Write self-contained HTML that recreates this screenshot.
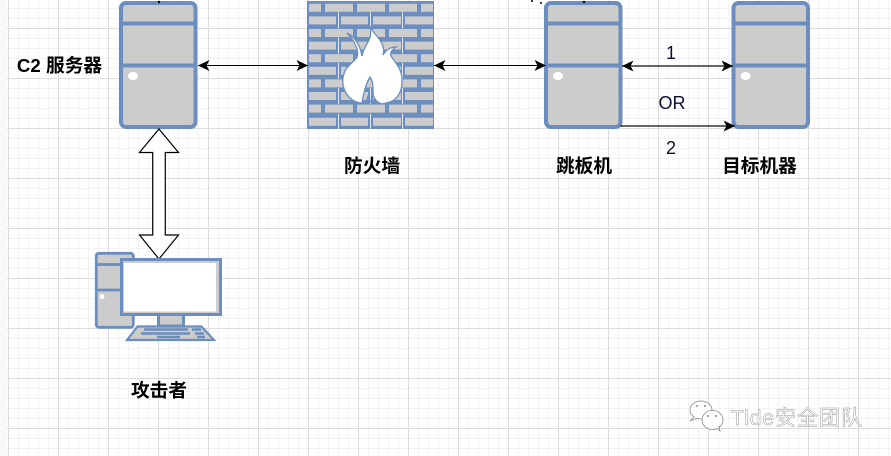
<!DOCTYPE html>
<html><head><meta charset="utf-8"><style>
html,body{margin:0;padding:0;background:#fff}
svg{display:block}
text{font-family:"Liberation Sans","Noto Sans CJK SC",sans-serif}
.b{font-weight:bold;font-size:18.7px;fill:#000;text-anchor:middle}
.n{font-size:18px;fill:#0b1030;text-anchor:middle}
</style></head><body>
<svg width="891" height="456" viewBox="0 0 891 456" xmlns="http://www.w3.org/2000/svg">
<defs>
<pattern id="minor" x="8" y="-2" width="10" height="10" patternUnits="userSpaceOnUse"><path d="M.5 0V10M0 .5H10" stroke="#f3f3f3" fill="none"/></pattern>
<pattern id="major" x="8" y="28" width="50" height="50" patternUnits="userSpaceOnUse"><path d="M.5 0V50M0 .5H50" stroke="#dcdcdc" fill="none"/></pattern>
<g id="srv">
<rect x="121" y="3" width="74.500" height="124" rx="5" fill="#ccc" stroke="#6c8ebf" stroke-width="4"/>
<path d="M121 23.500H196M121 65.500H196" stroke="#6c8ebf" stroke-width="4"/>
<ellipse cx="133" cy="76" rx="5" ry="4" fill="#fff"/>
</g>
<g id="r5" fill="#ccc">
<rect x="309" y="0" width="12" height="8"/><rect x="325" y="0" width="28" height="8"/><rect x="357" y="0" width="28" height="8"/><rect x="389" y="0" width="28" height="8"/><rect x="421" y="0" width="12" height="8"/>
</g>
<g id="r4">
<path d="M338.500 -4V12M370.500 -4V12M402.500 -4V12" stroke="#e4e8f0" stroke-width="1"/>
<g fill="#ccc"><rect x="309" y="0" width="27" height="8"/><rect x="341" y="0" width="27" height="8"/><rect x="373" y="0" width="28" height="8"/><rect x="405" y="0" width="28" height="8"/></g>
</g>
<marker id="ah" markerWidth="12" markerHeight="12" refX="11.500" refY="6" orient="auto-start-reverse" markerUnits="userSpaceOnUse" viewBox="0 0 12 12"><path d="M0 .5L11.500 6L0 11.500L3 6Z" fill="#000"/></marker>
</defs>
<rect width="891" height="456" fill="#fff"/>
<rect x="7" width="884" height="456" fill="url(#minor)"/>
<rect x="7" width="884" height="456" fill="url(#major)"/>
<rect width="7" height="456" fill="#f8f9fb"/>

<use href="#srv" x="0"/>
<use href="#srv" x="425"/>
<use href="#srv" x="612.500"/>
<circle cx="159" cy="2" r="1.200" fill="#000"/>
<circle cx="584" cy="2" r="1.200" fill="#000"/>
<circle cx="532" cy="1" r="1" fill="#000"/>
<circle cx="541" cy="3" r="1" fill="#000"/>

<!-- firewall -->
<rect x="307" y="1" width="127" height="128" fill="#6c8ebf"/>
<use href="#r5" y="3.800"/>
<use href="#r4" y="16.400"/>
<use href="#r5" y="29"/>
<use href="#r4" y="41.600"/>
<use href="#r5" y="54.200"/>
<use href="#r4" y="66.800"/>
<use href="#r5" y="79.400"/>
<use href="#r4" y="92"/>
<use href="#r5" y="104.600"/>
<use href="#r4" y="117.800"/>
<path d="M370 26C372 33 381 38 383 47C384 50 384 52 383 55C386 50 390 47 396 47C391 50 390 53 391 56C397 64 403 72 402 82C402 93 396 100 390 102L382 104C376 102 373 98 373 92C373 87 373 81 370 77C367 82 364 90 362 103C355 103 349 98 346 93C342 86 342 78 345 71C348 65 354 62 357 57C359 52 356 42 347 33C355 37 360 45 362 56C363 50 366 46 369 40C371 36 371 31 370 26Z" fill="#fff" stroke="#6c8ebf" stroke-width="1.300"/>
<path d="M365 103L369 91L371 103ZM373 103L374 97L378 103Z" fill="#6c8ebf"/>

<!-- connectors -->
<g stroke="#000" stroke-width="1.100" fill="none">
<path d="M198 65.500H308" marker-start="url(#ah)" marker-end="url(#ah)"/>
<path d="M434 65.500H546" marker-start="url(#ah)" marker-end="url(#ah)"/>
<path d="M622 66H733" stroke="#333" stroke-width="1.400" marker-start="url(#ah)" marker-end="url(#ah)"/>
<path d="M620 126H735" stroke="#333" stroke-width="1.400" marker-end="url(#ah)"/>
</g>

<!-- block arrow -->
<path d="M159 129L178.500 152.500H165.300V235H178.500L159 259L139.500 235H152.700V152.500H139.500Z" fill="#fff" stroke="#000" stroke-width="1.200"/>

<!-- computer -->
<rect x="96.300" y="253.300" width="37" height="74" rx="2.500" fill="#ccc" stroke="#6c8ebf" stroke-width="2.800"/>
<path d="M96 264.500H122M96 290H122" stroke="#6c8ebf" stroke-width="2.800"/>
<circle cx="102" cy="296.500" r="2.500" fill="#fff"/>
<rect x="158.500" y="314" width="25" height="12" fill="#ccc" stroke="#6c8ebf" stroke-width="3"/>
<rect x="121.500" y="259.500" width="99" height="55" fill="#ccc" stroke="#6c8ebf" stroke-width="3"/>
<rect x="124" y="263" width="92" height="48.500" fill="#fff"/>
<path d="M137.500 326.500H201.500L214 340H127Z" fill="#ccc" stroke="#6c8ebf" stroke-width="2.200"/>
<g stroke="#6c8ebf" stroke-width="2.400">
<path d="M144 329.500H188M192 329.500H201M141 333.500H190M195 333.500H204M157 337H180M197 337H205"/>
</g>

<!-- labels -->
<text x="59.500" y="72" class="b">C2 服务器</text>
<text x="372" y="172.500" class="b">防火墙</text>
<text x="584" y="172.500" class="b">跳板机</text>
<text x="759.500" y="172.500" class="b">目标机器</text>
<text x="159" y="397" class="b">攻击者</text>
<text x="671" y="59" class="n">1</text>
<text x="672" y="109" class="n">OR</text>
<text x="671" y="154" class="n">2</text>

<!-- watermark -->
<g fill="#fff" stroke="#8a8a8a" stroke-width=".8">
<ellipse cx="701" cy="410" rx="11" ry="9"/>
<path d="M694 417L690 421L698 418"/>
<ellipse cx="712.500" cy="420" rx="10.500" ry="9.500"/>
<path d="M717 428L720 431L719 426"/>
</g>
<g fill="#8a8a8a"><circle cx="697" cy="406" r="1"/><circle cx="705" cy="406" r="1"/><circle cx="708" cy="416" r="1"/><circle cx="716" cy="416" r="1"/></g>
<text x="731" y="425" font-size="21" fill="#fff" stroke="#999" stroke-width=".5" textLength="131">Tide安全团队</text>
</svg>
</body></html>
